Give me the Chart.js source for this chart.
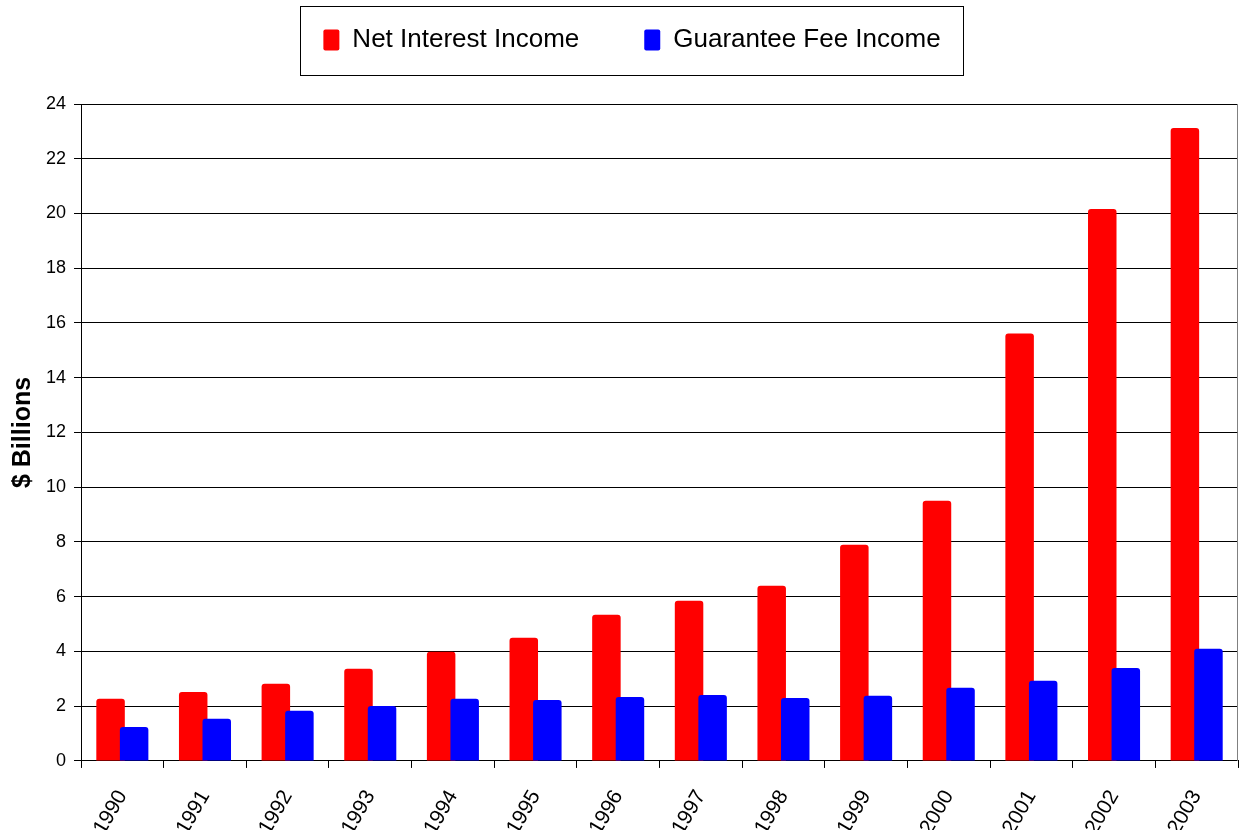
<!DOCTYPE html>
<html>
<head>
<meta charset="utf-8">
<script src="https://cdn.jsdelivr.net/npm/chart.js@4.4.1/dist/chart.umd.min.js"></script>
<style>
  html, body { margin: 0; padding: 0; background: #fff; }
  #wrap { width: 1239px; height: 830px; }
</style>
</head>
<body>
<div id="wrap"><canvas id="incomeChart"></canvas></div>
<script>
// values, $ billions
const years = ['1990', '1991', '1992', '1993', '1994', '1995', '1996', '1997', '1998', '1999', '2000', '2001', '2002', '2003'];
const netInterestIncome = [2.27, 2.52, 2.82, 3.37, 3.99, 4.5, 5.34, 5.85, 6.4, 7.9, 9.51, 15.62, 20.16, 23.12];
const guaranteeFeeIncome = [1.24, 1.54, 1.83, 2.01, 2.27, 2.23, 2.34, 2.41, 2.3, 2.38, 2.67, 2.93, 3.4, 4.1];
const yMin = 0;
const yMax = 24;
const yStep = 2;

const fontFamily = '"Liberation Sans", Arial, sans-serif';
const legendGap = 65;

// draw the datasets left to right so the blue bar sits over the red one
const drawOrderPlugin = {
  id: 'drawOrder',
  beforeDatasetsDraw(chart) {
    chart.getSortedVisibleDatasetMetas().forEach(meta => meta.controller.draw());
    return false;
  }
};

// legend: fixed height, items moved up into the box, box drawn round it
const framePlugin = {
  id: 'frame',
  beforeInit(chart) {
    const origFit = chart.legend.fit;
    chart.legend.fit = function() {
      origFit.bind(chart.legend)();
      this.height = 104;
    };
  },
  afterLayout(chart) {
    const lg = chart.legend;
    const shiftY = 27 - legendGap - lg.top;
    lg.top += shiftY;
    lg.bottom += shiftY;
    lg.left += 15;
    lg.right += 15;
  },
  afterDraw(chart) {
    const ctx = chart.ctx;
    const boxes = chart.legend.legendHitBoxes;
    if (boxes && boxes.length) {
      const left = Math.min(...boxes.map(b => b.left)) - 23;
      const right = Math.max(...boxes.map(b => b.left + b.width)) + 23;
      const top = 6;
      const bottom = 75;
      ctx.save();
      ctx.strokeStyle = '#000';
      ctx.lineWidth = 1;
      ctx.strokeRect(Math.round(left) + 0.5, top + 0.5, Math.round(right - left), bottom - top);
      ctx.restore();
    }
    const area = chart.chartArea;
    ctx.save();
    ctx.strokeStyle = '#808080';
    ctx.lineWidth = 1;
    ctx.beginPath();
    ctx.moveTo(Math.round(area.right) - 0.5, area.top);
    ctx.lineTo(Math.round(area.right) - 0.5, area.bottom);
    ctx.stroke();
    ctx.restore();
  }
};

const ctx = document.getElementById('incomeChart').getContext('2d');

const incomeChart = new Chart(ctx, {
  type: 'bar',
  data: {
    labels: years,
    datasets: [{
      label: 'Net Interest Income',
      data: netInterestIncome,
      backgroundColor: '#ff0000',
      borderRadius: 3
    }, {
      label: 'Guarantee Fee Income',
      data: guaranteeFeeIncome,
      backgroundColor: '#0000ff',
      borderRadius: 3
    }]
  },
  options: {
    responsive: true,
    maintainAspectRatio: false,
    animation: false,
    categoryPercentage: 0.57,
    barPercentage: 1.21,
    layout: {
      padding: { top: 0, right: 1, bottom: -27, left: -4 }
    },
    plugins: {
      legend: {
        position: 'top',
        labels: {
          boxWidth: 16,
          boxHeight: 21,
          padding: legendGap,
          color: '#000',
          font: { family: fontFamily, size: 26 },
          useBorderRadius: true,
          borderRadius: 2
        }
      },
      tooltip: { enabled: false }
    },
    scales: {
      x: {
        offset: true,
        afterFit(scale) {
          // rotated labels should not push the plot to the right
          scale.paddingLeft = 0;
          scale.paddingRight = 0;
        },
        grid: {
          offset: true,
          drawOnChartArea: false,
          drawTicks: true,
          tickLength: 7,
          tickColor: '#000',
          color: '#000'
        },
        border: { color: '#000', width: 1 },
        ticks: {
          color: '#000',
          font: { family: fontFamily, size: 21 },
          minRotation: 60,
          maxRotation: 60,
          padding: 18,
          autoSkip: false
        }
      },
      y: {
        min: yMin,
        max: yMax,
        ticks: {
          stepSize: yStep,
          color: '#000',
          font: { family: fontFamily, size: 18 },
          padding: 8
        },
        grid: {
          color: '#000',
          lineWidth: 1,
          tickLength: 7,
          tickColor: '#000'
        },
        border: { color: '#000', width: 1 },
        title: {
          display: true,
          text: '$ Billions',
          color: '#000',
          font: { family: fontFamily, size: 25, weight: 'bold' },
          padding: { top: 12, bottom: 0 }
        }
      }
    }
  },
  plugins: [drawOrderPlugin, framePlugin]
});
</script>
</body>
</html>
